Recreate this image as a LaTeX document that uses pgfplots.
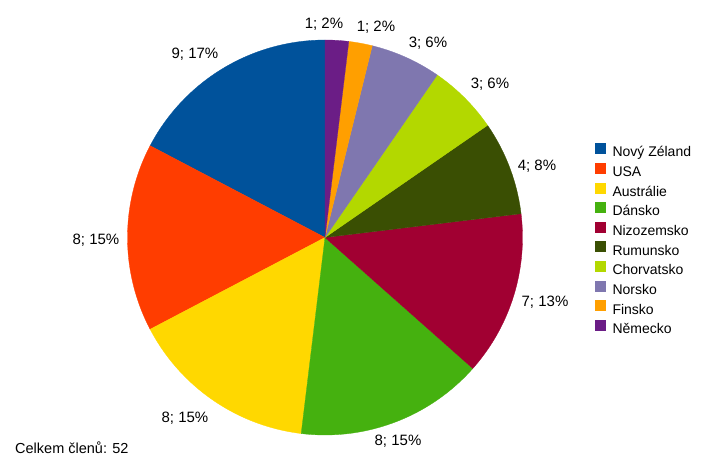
\documentclass[border=0pt]{standalone}
\usepackage{fontspec}
\setmainfont{Liberation Sans}
\usepackage{pgfplots}
\usepackage{pgfplotstable}
\pgfplotsset{compat=1.18}

\definecolor{c0}{HTML}{00529B}
\definecolor{c1}{HTML}{FF3D00}
\definecolor{c2}{HTML}{FFD800}
\definecolor{c3}{HTML}{45B10F}
\definecolor{c4}{HTML}{A10032}
\definecolor{c5}{HTML}{3A4F03}
\definecolor{c6}{HTML}{B3D800}
\definecolor{c7}{HTML}{7F77AF}
\definecolor{c8}{HTML}{FF9F00}
\definecolor{c9}{HTML}{6B1D86}

\pgfplotstableread[col sep=comma]{
name,value,color,lx,ly
Nový Zéland,9,c0,195,53
USA,8,c1,96,239
Austrálie,8,c2,185,417
Dánsko,8,c3,398,440
Nizozemsko,7,c4,545,301
Rumunsko,4,c5,537,165
Chorvatsko,3,c6,490,83
Norsko,3,c7,428,42
Finsko,1,c8,376,26
Německo,1,c9,324,23
}\piedata

\tikzset{lbl/.style={font=\fontsize{15bp}{18bp}\selectfont, text height=11bp, text depth=0pt, inner sep=0pt}}

\begin{document}
\begin{tikzpicture}
\pgfplotstablegetrowsof{\piedata}
\pgfmathtruncatemacro\nrows{\pgfplotsretval-1}
\gdef\total{0}
\foreach \i in {0,...,\nrows}{%
  \pgfplotstablegetelem{\i}{value}\of\piedata
  \pgfmathtruncatemacro\tmp{\total+\pgfplotsretval}%
  \xdef\total{\tmp}}
\begin{axis}[width=706bp,height=467bp,scale only axis,
  xmin=0,xmax=706,ymin=0,ymax=467,y dir=reverse,
  hide axis,clip=false,
  legend cell align=left,
  legend style={at={(axis cs:595,143)},anchor=north west,draw=none,fill=none,
    font=\fontsize{14bp}{16bp}\selectfont,row sep=3bp,column sep=7bp,inner sep=0pt,
    nodes={inner sep=0pt,text height=10bp,text depth=3bp}},
  legend image code/.code={\fill[#1] (0bp,0bp) rectangle (10bp,10bp);}]
\path (axis cs:0,0) rectangle (axis cs:706,467);
\gdef\cum{0}
\pgfmathsetmacro\unit{360/\total}
\foreach \i in {0,...,\nrows}{%
  \pgfplotstablegetelem{\i}{value}\of\piedata \let\v\pgfplotsretval
  \pgfplotstablegetelem{\i}{color}\of\piedata \let\col\pgfplotsretval
  \pgfplotstablegetelem{\i}{name}\of\piedata \let\nm\pgfplotsretval
  \pgfplotstablegetelem{\i}{lx}\of\piedata \let\lx\pgfplotsretval
  \pgfplotstablegetelem{\i}{ly}\of\piedata \let\ly\pgfplotsretval
  \pgfmathsetmacro\a{90+\unit*\cum}%
  \pgfmathsetmacro\b{90+\unit*(\cum+\v)}%
  \pgfmathtruncatemacro\pct{round(\v*(100/\total))}%
  \edef\temp{%
    \noexpand\addplot[fill=\col,draw=\col,line width=0.3bp,domain=\a:\b,samples=60,variable=\noexpand\t]
      ({325+197.5*cos(\noexpand\t)},{237.5-197.5*sin(\noexpand\t)}) -- (325,237.5) -- cycle;
    \noexpand\addlegendentry{\nm}
    \noexpand\node[lbl] at (axis cs:\lx,\ly) {\v; \pct\noexpand\%};
  }%
  \temp
  \pgfmathtruncatemacro\tmp{\cum+\v}%
  \xdef\cum{\tmp}%
}
\node[anchor=west,font=\fontsize{14.5bp}{17bp}\selectfont,text height=10bp,text depth=0pt,inner sep=0pt]
  at (axis cs:15,448) {Celkem členů: \total};
\end{axis}
\end{tikzpicture}
\end{document}
